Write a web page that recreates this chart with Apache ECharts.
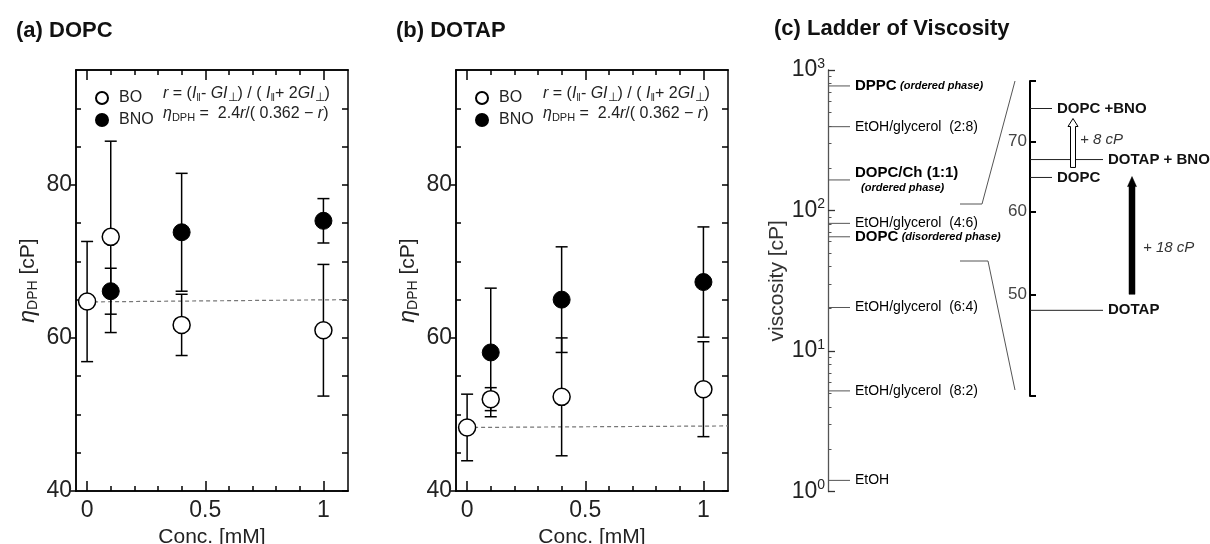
<!DOCTYPE html>
<html><head><meta charset="utf-8">
<script src="https://cdn.jsdelivr.net/npm/echarts@6.0.0/dist/echarts.min.js"></script>
<style>html,body{margin:0;padding:0;background:#fff}#c{width:1210px;height:544px}</style>
</head><body><div id="c"></div>
<script>
// ---------------- data ----------------
const concBO = [0, 0.1, 0.4, 1];
const concBNO = [0.1, 0.4, 1];
// (a) DOPC
const dopcBO = [64.75, 73.2, 61.7, 61.0];
const dopcBOErr = [7.85, 12.5, 4.0, 8.6];
const dopcBNO = [66.1, 73.8, 75.3];
const dopcBNOErr = [3.0, 7.7, 2.9];
// (b) DOTAP
const dotapBO = [48.3, 52.0, 52.3, 53.3];
const dotapBOErr = [4.35, 1.5, 7.7, 6.2];
const dotapBNO = [58.1, 65.0, 67.3];
const dotapBNOErr = [8.4, 6.9, 7.2];
// dashed reference lines (x from 0 to right edge)
const baseX = [0, 1.104];
const dopcBase = [64.7, 65.0];
const dotapBase = [48.3, 48.5];
// ticks
const xMajorTicks = [0, 0.5, 1];
const xMinorTicks = [0.1, 0.2, 0.3, 0.4, 0.6, 0.7, 0.8, 0.9];
const yMajorTicks = [40, 60, 80];
const yMinorTicks = [45, 50, 55, 65, 70, 75, 85, 90];
const yAllTicks = [40, 45, 50, 55, 60, 65, 70, 75, 80, 85, 90];
// (c) ladder of viscosity
const ladderNames = ['DPPC', 'EtOH/glycerol  (2:8)', 'DOPC/Ch (1:1)', 'EtOH/glycerol  (4:6)', 'DOPC', 'EtOH/glycerol  (6:4)', 'EtOH/glycerol  (8:2)', 'EtOH'];
const ladderNotes = ['ordered phase', '', 'ordered phase', '', 'disordered phase', '', '', ''];
const ladderValues = [770, 395, 165, 81, 65, 20.4, 5.2, 1.2];
const logMajorTicks = [1, 10, 100, 1000];
const logMinorTicks = [2,3,4,5,6,7,8,9,20,30,40,50,60,70,80,90,200,300,400,500,600,700,800,900];
// inset
const insetNames = ['DOPC +BNO', 'DOTAP + BNO', 'DOPC', 'DOTAP'];
const insetValues = [75.3, 67.3, 64.7, 48.3];
const insetTicks = [40, 50, 60, 70, 80];
const insetLabels = [50, 60, 70];
const arrowFrom = [64.7, 48.3];
const arrowTo = [75.3, 67.3];
const arrowLabels = ['+ 8 cP', '+ 18 cP'];

// ---------------- styles ----------------
const FF = "'Liberation Sans', Arial, sans-serif";
const AX = '#000';
const X_MIN = -0.047, X_MAX = 1.104;

function xAxesFor(g) {
  const base = { gridIndex: g, type: 'value', min: X_MIN, max: X_MAX, splitLine: { show: false },
    axisLine: { show: true, onZero: false, lineStyle: { color: AX, width: 1.5 } } };
  const tl = { color: AX, width: 1.5 };
  return [
    Object.assign({}, base, { position: 'bottom',
      axisTick: { show: true, inside: true, length: 10, customValues: xMajorTicks, lineStyle: tl },
      axisLabel: { customValues: xMajorTicks, fontSize: 23, color: '#222', margin: 8, fontFamily: FF },
      name: 'Conc. [mM]', nameLocation: 'middle', nameGap: 29,
      nameTextStyle: { fontSize: 21, color: '#222', fontFamily: FF } }),
    Object.assign({}, base, { position: 'bottom',
      axisTick: { show: true, inside: true, length: 5, customValues: xMinorTicks, lineStyle: tl },
      axisLabel: { show: false } }),
    Object.assign({}, base, { position: 'top',
      axisTick: { show: true, inside: true, length: 10, customValues: xMajorTicks, lineStyle: tl },
      axisLabel: { show: false } }),
    Object.assign({}, base, { position: 'top',
      axisTick: { show: true, inside: true, length: 5, customValues: xMinorTicks, lineStyle: tl },
      axisLabel: { show: false } })
  ];
}
function yAxesFor(g) {
  const base = { gridIndex: g, type: 'value', min: 40, max: 95, splitLine: { show: false },
    axisLine: { show: true, onZero: false, lineStyle: { color: AX, width: 1.5 } } };
  const tl = { color: AX, width: 1.5 };
  return [
    Object.assign({}, base, { position: 'left',
      axisTick: { show: true, inside: false, length: 6, customValues: yMajorTicks, lineStyle: tl },
      axisLabel: { customValues: yMajorTicks, fontSize: 23, color: '#222', margin: 4, fontFamily: FF },
      name: '{i|η}{s|DPH} [cP]', nameLocation: 'middle', nameGap: 36,
      nameTextStyle: { fontSize: 21, color: '#222', fontFamily: FF,
        rich: { i: { fontSize: 23, fontStyle: 'italic', fontFamily: FF, color: '#222', lineHeight: 24 },
                s: { fontSize: 14, fontFamily: FF, color: '#222', verticalAlign: 'bottom', lineHeight: 12 } } } }),
    Object.assign({}, base, { position: 'left',
      axisTick: { show: true, inside: true, length: 5, customValues: yMinorTicks, lineStyle: tl },
      axisLabel: { show: false } }),
    Object.assign({}, base, { position: 'right',
      axisTick: { show: true, inside: true, length: 6, customValues: yAllTicks, lineStyle: tl },
      axisLabel: { show: false } })
  ];
}

function errRender(params, api) {
  const x = api.value(0), y = api.value(1), e = api.value(2);
  const t = api.coord([x, y + e]);
  const b = api.coord([x, y - e]);
  const w = 6;
  const st = { stroke: '#000', lineWidth: 1.5 };
  return { type: 'group', children: [
    { type: 'line', shape: { x1: t[0], y1: t[1], x2: b[0], y2: b[1] }, style: st },
    { type: 'line', shape: { x1: t[0] - w, y1: t[1], x2: t[0] + w, y2: t[1] }, style: st },
    { type: 'line', shape: { x1: b[0] - w, y1: b[1], x2: b[0] + w, y2: b[1] }, style: st }
  ] };
}
const zip = (xs, ys) => xs.map((x, i) => [x, ys[i]]);
const zip3 = (xs, ys, es) => xs.map((x, i) => [x, ys[i], es[i]]);

function panelSeries(xi, yi, bo, boErr, bno, bnoErr, base) {
  return [
    { type: 'line', xAxisIndex: xi, yAxisIndex: yi, data: zip(baseX, base), symbol: 'none', silent: true,
      lineStyle: { color: '#777', width: 1.2, type: [4, 3] }, z: 1 },
    { type: 'custom', xAxisIndex: xi, yAxisIndex: yi, data: zip3(concBO, bo, boErr), renderItem: errRender,
      encode: { x: 0, y: 1 }, z: 2, clip: false },
    { type: 'custom', xAxisIndex: xi, yAxisIndex: yi, data: zip3(concBNO, bno, bnoErr), renderItem: errRender,
      encode: { x: 0, y: 1 }, z: 2, clip: false },
    { name: 'BO', type: 'scatter', xAxisIndex: xi, yAxisIndex: yi, data: zip(concBO, bo), symbol: 'circle',
      symbolSize: 17, itemStyle: { color: '#fff', borderColor: '#000', borderWidth: 1.5, opacity: 1 }, z: 5 },
    { name: 'BNO', type: 'scatter', xAxisIndex: xi, yAxisIndex: yi, data: zip(concBNO, bno), symbol: 'circle',
      symbolSize: 17, itemStyle: { color: '#000', borderColor: '#000', borderWidth: 1, opacity: 1 }, z: 6 }
  ];
}

const formulaRich = {
  t: { fontSize: 16, fontFamily: FF, color: '#222', lineHeight: 19 },
  i: { fontSize: 16, fontFamily: FF, color: '#222', fontStyle: 'italic', lineHeight: 19 },
  s: { fontSize: 11, fontFamily: FF, color: '#222', verticalAlign: 'bottom', lineHeight: 11 },
  si: { fontSize: 12, fontFamily: FF, color: '#222', verticalAlign: 'bottom', lineHeight: 12 }
};
const f1 = '{i|r}{t| = (}{i|I}{s|‖}{t|- }{i|GI}{si|⊥}{t|) / ( }{i|I}{s|‖}{t|+ 2}{i|GI}{si|⊥}{t|)}';
const f2 = '{i|η}{s|DPH}{t| =  2.4}{i|r}{t|/( 0.362 − }{i|r}{t|)}';
function formula(left) {
  return [
    { type: 'text', left: left, top: 86, style: { text: f1, rich: formulaRich, fill: '#222' } },
    { type: 'text', left: left, top: 106, style: { text: f2, rich: formulaRich, fill: '#222' } }
  ];
}

const ladderRich = {
  b: { fontSize: 15, fontWeight: 'bold', fontFamily: FF, color: '#111', lineHeight: 17 },
  n: { fontSize: 11, fontWeight: 'bold', fontStyle: 'italic', fontFamily: FF, color: '#111', lineHeight: 15 },
  r: { fontSize: 14, fontFamily: FF, color: '#333', lineHeight: 17 }
};
const twoLineLabels = ['DOPC/Ch (1:1)'];

const titleStyle = { fontSize: 22, fontWeight: 'bold', color: '#111', fontFamily: FF };
const legendBase = { data: ['BO', 'BNO'], top: 90, orient: 'vertical', icon: 'circle', itemWidth: 12, itemHeight: 12,
  itemGap: 6, padding: 0, selectedMode: false, textStyle: { fontSize: 16, color: '#222', fontFamily: FF, padding: [0, 0, 0, 6] } };

const option = {
  animation: false,
  backgroundColor: '#fff',
  title: [
    { text: '(a) DOPC', left: 16, top: 20, padding: 0, textStyle: titleStyle },
    { text: '(b) DOTAP', left: 396, top: 20, padding: 0, textStyle: titleStyle },
    { text: '(c) Ladder of Viscosity', left: 774, top: 18, padding: 0, textStyle: titleStyle }
  ],
  legend: [
    Object.assign({}, legendBase, { left: 95 }),
    Object.assign({}, legendBase, { left: 475 })
  ],
  grid: [
    { left: 76, top: 70, width: 272, height: 421, outerBoundsMode: 'none' },
    { left: 456, top: 70, width: 272, height: 421, outerBoundsMode: 'none' },
    { left: 828, top: 70, width: 180, height: 421.5, outerBoundsMode: 'none' },
    { left: 1030, top: 81, width: 175, height: 315, outerBoundsMode: 'none' }
  ],
  xAxis: [].concat(
    xAxesFor(0), xAxesFor(1),
    [{ gridIndex: 2, type: 'value', min: 0, max: 1, show: false },
     { gridIndex: 3, type: 'value', min: 0, max: 1, show: false }]
  ),
  yAxis: [].concat(
    yAxesFor(0), yAxesFor(1),
    [
      { gridIndex: 2, type: 'log', logBase: 10, min: 1, max: 1000, position: 'left', splitLine: { show: false },
        axisLine: { show: true, onZero: false, lineStyle: { color: '#555', width: 1.3 } },
        axisTick: { show: true, inside: true, length: 7, customValues: logMajorTicks, lineStyle: { color: '#333', width: 1.3 } },
        axisLabel: { customValues: logMajorTicks, margin: 3, color: '#222',
          formatter: v => '{b|10}{s|' + Math.round(Math.log10(v)) + '}',
          rich: { b: { fontSize: 23, fontFamily: FF, color: '#222', lineHeight: 26 },
                  s: { fontSize: 14, fontFamily: FF, color: '#222', verticalAlign: 'top', lineHeight: 14 } } },
        name: 'viscosity [cP]', nameLocation: 'middle', nameGap: 36,
        nameTextStyle: { fontSize: 21, color: '#333', fontFamily: FF } },
      { gridIndex: 2, type: 'log', logBase: 10, min: 1, max: 1000, position: 'left', splitLine: { show: false },
        axisLine: { show: false, onZero: false },
        axisTick: { show: true, inside: true, length: 3.5, customValues: logMinorTicks, lineStyle: { color: '#555', width: 1 } },
        axisLabel: { show: false } },
      { gridIndex: 3, type: 'log', logBase: 10, min: 40, max: 80, position: 'left', splitLine: { show: false },
        axisLine: { show: true, onZero: false, lineStyle: { color: '#000', width: 2 } },
        axisTick: { show: true, inside: true, length: 6, customValues: insetTicks, lineStyle: { color: '#000', width: 2 } },
        axisLabel: { customValues: insetLabels, margin: 3, fontSize: 17, color: '#444', fontFamily: FF } }
    ]
  ),
  graphic: [].concat(formula(163), formula(543), [
    { type: 'polyline', shape: { points: [[960, 204], [982, 204], [1015, 81]] }, style: { stroke: '#555', lineWidth: 1, fill: null } },
    { type: 'polyline', shape: { points: [[960, 261], [988, 261], [1015, 390]] }, style: { stroke: '#555', lineWidth: 1, fill: null } }
  ]),
  series: [].concat(
    panelSeries(0, 0, dopcBO, dopcBOErr, dopcBNO, dopcBNOErr, dopcBase),
    panelSeries(4, 3, dotapBO, dotapBOErr, dotapBNO, dotapBNOErr, dotapBase),
    [
      { type: 'custom', xAxisIndex: 8, yAxisIndex: 6, clip: false, encode: { x: 0, y: 1 },
        data: ladderValues.map((v, i) => [0, v]),
        renderItem: function (params, api) {
          const i = params.dataIndex;
          const p = api.coord([0, api.value(1)]);
          const name = ladderNames[i], note = ladderNotes[i];
          let text;
          if (!note) text = '{r|' + name + '}';
          else if (twoLineLabels.indexOf(name) >= 0) text = '{b|' + name + '}\n{n|  (' + note + ')}';
          else text = '{b|' + name + '} {n|(' + note + ')}';
          return { type: 'group', children: [
            { type: 'line', shape: { x1: p[0], y1: p[1], x2: p[0] + 22, y2: p[1] }, style: { stroke: '#555', lineWidth: 1 } },
            { type: 'text', x: p[0] + 27, y: p[1], style: { text: text, rich: ladderRich, verticalAlign: 'middle', align: 'left' } }
          ] };
        } },
      { type: 'custom', xAxisIndex: 9, yAxisIndex: 8, clip: false, encode: { x: 0, y: 1 },
        data: insetValues.map((v, i) => [0, v]),
        renderItem: function (params, api) {
          const i = params.dataIndex;
          const p = api.coord([0, api.value(1)]);
          const len = insetNames[i].indexOf('DOTAP') === 0 ? 73 : 22;
          return { type: 'group', children: [
            { type: 'line', shape: { x1: p[0], y1: p[1], x2: p[0] + len, y2: p[1] }, style: { stroke: '#222', lineWidth: 1 } },
            { type: 'text', x: p[0] + len + 5, y: p[1], style: { text: insetNames[i], fontSize: 15, fontWeight: 'bold',
              fontFamily: FF, fill: '#111', verticalAlign: 'middle', align: 'left' } }
          ] };
        } },
      { type: 'custom', xAxisIndex: 9, yAxisIndex: 8, clip: false, encode: { x: 0, y: 1 }, z: 4,
        data: arrowFrom.map((v, i) => [0, v, arrowTo[i]]),
        renderItem: function (params, api) {
          const i = params.dataIndex;
          const p0 = api.coord([0, api.value(1)]);
          const p1 = api.coord([0, api.value(2)]);
          let children;
          if (i === 0) {
            const x = p0[0] + 43, yb = p0[1] - 10, yt = p1[1] + 10;
            children = [
              { type: 'polygon', shape: { points: [[x - 2.5, yb], [x - 2.5, yt + 8], [x - 5, yt + 8], [x, yt], [x + 5, yt + 8], [x + 2.5, yt + 8], [x + 2.5, yb]] },
                style: { fill: '#fff', stroke: '#000', lineWidth: 1 } },
              { type: 'text', x: x + 7, y: (yb + yt) / 2 - 3, style: { text: arrowLabels[i], fontSize: 15, fontStyle: 'italic',
                fontFamily: FF, fill: '#333', verticalAlign: 'middle' } }
            ];
          } else {
            const x = p0[0] + 102, yb = p0[1] - 16, yt = p1[1] + 17;
            children = [
              { type: 'polygon', shape: { points: [[x - 3, yb], [x - 3, yt + 10], [x - 4.5, yt + 10], [x, yt], [x + 4.5, yt + 10], [x + 3, yt + 10], [x + 3, yb]] },
                style: { fill: '#000', stroke: '#000', lineWidth: 0.5 } },
              { type: 'text', x: x + 11, y: (yb + yt) / 2 + 12, style: { text: arrowLabels[i], fontSize: 15, fontStyle: 'italic',
                fontFamily: FF, fill: '#333', verticalAlign: 'middle' } }
            ];
          }
          return { type: 'group', children: children };
        } }
    ]
  )
};

const chart = echarts.init(document.getElementById('c'), null, { renderer: 'canvas' });
chart.setOption(option);
</script>
</body></html>
